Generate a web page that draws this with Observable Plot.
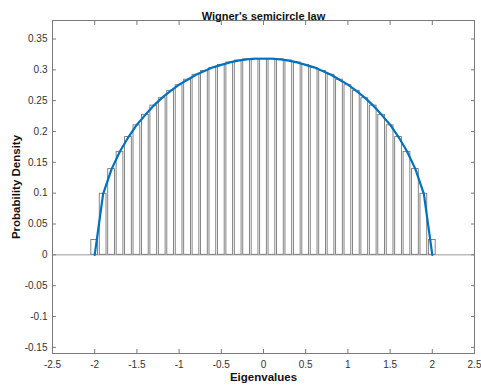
<!DOCTYPE html>
<html>
<head>
<meta charset="utf-8">
<script src="https://cdn.jsdelivr.net/npm/d3@7"></script>
<script src="https://cdn.jsdelivr.net/npm/@observablehq/plot@0.6"></script>
<style>
  html, body { margin: 0; padding: 0; background: #fff; }
  #chart svg { display: block; }
</style>
</head>
<body>
<div id="chart"></div>
<script>
const binCenters = [-2.0,-1.9,-1.8,-1.7,-1.6,-1.5,-1.4,-1.3,-1.2,-1.1,-1.0,-0.9,-0.8,-0.7,-0.6,-0.5,-0.4,-0.3,-0.2,-0.1,0.0,
  0.1,0.2,0.3,0.4,0.5,0.6,0.7,0.8,0.9,1.0,1.1,1.2,1.3,1.4,1.5,1.6,1.7,1.8,1.9,2.0];
const barHeights = [0.024,0.099,0.139,0.167,0.191,0.210,0.227,0.242,0.254,0.266,0.275,0.284,0.292,0.298,0.303,0.308,0.312,0.315,0.317,0.318,0.318,
  0.318,0.317,0.315,0.312,0.308,0.303,0.298,0.292,0.284,0.275,0.266,0.254,0.242,0.227,0.210,0.191,0.167,0.139,0.099,0.024];
const curveX = binCenters;
const curveY = [0.000,0.099,0.139,0.168,0.191,0.211,0.227,0.242,0.255,0.266,0.276,0.284,0.292,0.298,0.304,0.308,0.312,0.315,0.317,0.318,0.318,
  0.318,0.317,0.315,0.312,0.308,0.304,0.298,0.292,0.284,0.276,0.266,0.255,0.242,0.227,0.211,0.191,0.168,0.139,0.099,0.000];
const xTicks = [-2.5,-2,-1.5,-1,-0.5,0,0.5,1,1.5,2,2.5];
const yTicks = [-0.15,-0.1,-0.05,0,0.05,0.1,0.15,0.2,0.25,0.3,0.35];
const titleText = "Wigner's semicircle law";
const xLabel = "Eigenvalues";
const yLabel = "Probability Density";

const binWidth = 0.1, barFrac = 0.8;
const bars = binCenters.map((c, i) => ({x1: c - binWidth*barFrac/2, x2: c + binWidth*barFrac/2, y: barHeights[i]}));
const curve = curveX.map((x, i) => ({x, y: curveY[i]}));
const fmt = d => String(+d.toFixed(2));
const axisColor = "#7a7a7a";
const textColor = "#333";

const chart = Plot.plot({
  width: 481,
  height: 387,
  marginLeft: 52,
  marginRight: 7,
  marginTop: 20,
  marginBottom: 34,
  style: {fontFamily: "'Liberation Sans', Helvetica, Arial, sans-serif", fontSize: "10px", color: textColor, background: "white"},
  x: {domain: [-2.5, 2.5]},
  y: {domain: [-0.16, 0.38]},
  marks: [
    Plot.ruleY([0], {stroke: "#9a9a9a", strokeWidth: 1}),
    Plot.rectY(bars, {x1: "x1", x2: "x2", y: "y", fill: "white", stroke: "#777", strokeWidth: 0.9}),
    Plot.line(curve, {x: "x", y: "y", stroke: "#0072BD", strokeWidth: 2.2}),
    Plot.frame({stroke: axisColor}),
    Plot.axisX(xTicks, {anchor: "bottom", tickSize: -4, tickPadding: 11, stroke: axisColor, tickFormat: fmt, fill: textColor,
      label: xLabel, labelAnchor: "center", labelOffset: 27, labelArrow: "none"}),
    Plot.axisX(xTicks, {anchor: "top", tickSize: -4, stroke: axisColor, tickFormat: () => "", label: null}),
    Plot.axisY(yTicks, {anchor: "left", tickSize: -4, tickPadding: 9, stroke: axisColor, tickFormat: fmt, fill: textColor,
      label: yLabel, labelAnchor: "center", labelOffset: 41, labelArrow: "none"}),
    Plot.axisY(yTicks, {anchor: "right", tickSize: -4, stroke: axisColor, tickFormat: () => "", label: null}),
    Plot.text([titleText], {frameAnchor: "top", dy: -8, fontWeight: "bold", fontSize: 11, fill: "#111"})
  ]
});
document.getElementById("chart").appendChild(chart);
d3.select(chart).selectAll("[aria-label='x-axis label'] text, [aria-label='y-axis label'] text")
  .attr("font-weight", "bold").attr("font-size", 11.5).attr("fill", "#111");
</script>
</body>
</html>
